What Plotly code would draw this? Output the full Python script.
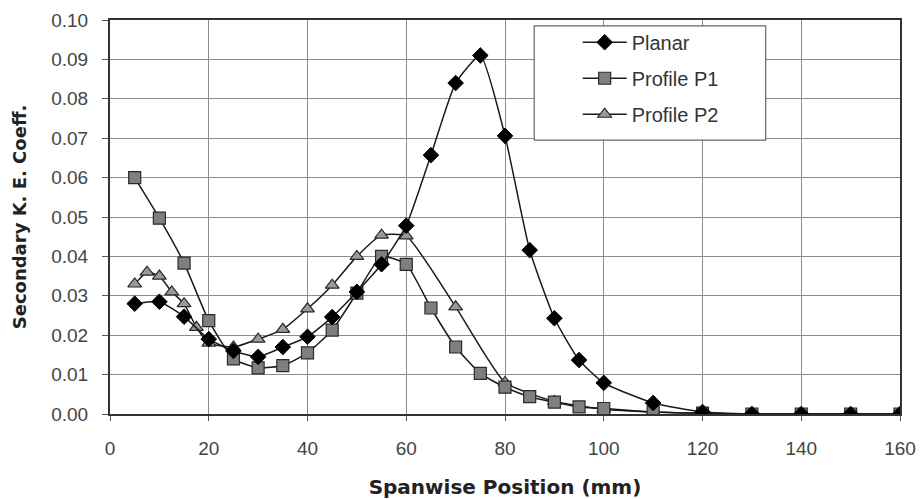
import plotly.graph_objects as go

planar_x = [5, 10, 15, 20, 25, 30, 35, 40, 45, 50, 55, 60, 65, 70, 75, 80, 85, 90, 95, 100, 110, 120, 130, 140, 150, 160]
planar_y = [0.028, 0.0285, 0.0247, 0.0190, 0.0160, 0.0145, 0.0170, 0.0196, 0.0246, 0.0310, 0.0380, 0.0478, 0.0657, 0.0840, 0.0910, 0.0706, 0.0416, 0.0243, 0.0137, 0.0079, 0.0028, 0.0005, 0.0, 0.0, 0.0, 0.0]

p1_x = [5, 10, 15, 20, 25, 30, 35, 40, 45, 50, 55, 60, 65, 70, 75, 80, 85, 90, 95, 100, 110, 120, 130, 140, 150, 160]
p1_y = [0.0600, 0.0497, 0.0383, 0.0237, 0.0140, 0.0117, 0.0123, 0.0155, 0.0213, 0.0307, 0.0400, 0.0380, 0.0269, 0.0170, 0.0103, 0.0068, 0.0044, 0.0030, 0.0018, 0.0014, 0.0005, 0.0002, 0.0, 0.0, 0.0, 0.0]

p2_x = [5, 7.5, 10, 12.5, 15, 17.5, 20, 25, 30, 35, 40, 45, 50, 55, 60, 70, 80, 90, 100, 110, 120, 130, 140, 150, 160]
p2_y = [0.0330, 0.0360, 0.0350, 0.0310, 0.0280, 0.0220, 0.0180, 0.0170, 0.0190, 0.0215, 0.0267, 0.0327, 0.0400, 0.0454, 0.0452, 0.0272, 0.0080, 0.0032, 0.0012, 0.0005, 0.0002, 0.0, 0.0, 0.0, 0.0]

x_ticks = [0, 20, 40, 60, 80, 100, 120, 140, 160]
y_ticks = [0.00, 0.01, 0.02, 0.03, 0.04, 0.05, 0.06, 0.07, 0.08, 0.09, 0.10]

fig = go.Figure()
line_style = dict(color="#1a1a1a", width=1.5, shape="spline", smoothing=0.5)
fig.add_trace(go.Scatter(x=p2_x, y=p2_y, name="Profile P2", mode="lines+markers",
                         line=line_style, legendgroup="c", legendrank=3,
                         marker=dict(symbol="triangle-up", size=12, color="#9a9a9a",
                                     line=dict(color="#2a2a2a", width=1.2))))
fig.add_trace(go.Scatter(x=p1_x, y=p1_y, name="Profile P1", mode="lines+markers",
                         line=line_style, legendgroup="b", legendrank=2,
                         marker=dict(symbol="square", size=12, color="#7f7f7f",
                                     line=dict(color="#2a2a2a", width=1.2))))
fig.add_trace(go.Scatter(x=planar_x, y=planar_y, name="Planar", mode="lines+markers",
                         line=line_style, legendgroup="a", legendrank=1,
                         marker=dict(symbol="diamond", size=12, color="#000000",
                                     line=dict(color="#000000", width=1))))

tick_font = dict(family="Liberation Sans, Arial, sans-serif", size=19, color="#444444")
title_font_x = dict(family="DejaVu Sans, Verdana, sans-serif", size=20, color="#222222")
title_font_y = dict(family="DejaVu Sans, Verdana, sans-serif", size=18, color="#222222")

# legend frame (paper coordinates)
fig.add_shape(type="rect", xref="paper", yref="paper",
              x0=0.537, x1=0.830, y0=0.695, y1=0.985,
              fillcolor="white", line=dict(color="#666666", width=1.2), layer="above")

fig.update_layout(
    width=920, height=499,
    margin=dict(l=110, r=20, t=20, b=85, autoexpand=False),
    paper_bgcolor="white", plot_bgcolor="white",
    font=dict(family="Liberation Sans, Arial, sans-serif", size=19, color="#444444"),
    showlegend=True,
    legend=dict(x=0.592, y=0.993, xanchor="left", yanchor="top",
                bgcolor="rgba(0,0,0,0)", borderwidth=0,
                font=dict(family="Liberation Sans, Arial, sans-serif", size=20, color="#333333"),
                itemwidth=44, tracegroupgap=7),
    xaxis=dict(range=[0, 160], tickvals=x_ticks, ticktext=[str(v) for v in x_ticks],
               showgrid=True, gridcolor="#8c8c8c", gridwidth=1.3,
               showline=True, linecolor="#333333", linewidth=2, mirror=True,
               ticks="outside", ticklen=5, tickcolor="#555555", zeroline=False,
               tickfont=tick_font, ticklabelstandoff=11, automargin=False,
               title=dict(text="<b>Spanwise Position (mm)</b>", font=title_font_x, standoff=24)),
    yaxis=dict(range=[0, 0.10], tickvals=y_ticks, ticktext=["%.2f" % v for v in y_ticks],
               showgrid=True, gridcolor="#8c8c8c", gridwidth=1.3,
               showline=True, linecolor="#333333", linewidth=2, mirror=True,
               ticks="outside", ticklen=6, tickcolor="#555555", zeroline=False,
               tickfont=tick_font, ticklabelstandoff=10, automargin=False,
               title=dict(text="<b>Secondary K. E. Coeff.</b>", font=title_font_y, standoff=20)),
)

fig.write_html("out.html")
